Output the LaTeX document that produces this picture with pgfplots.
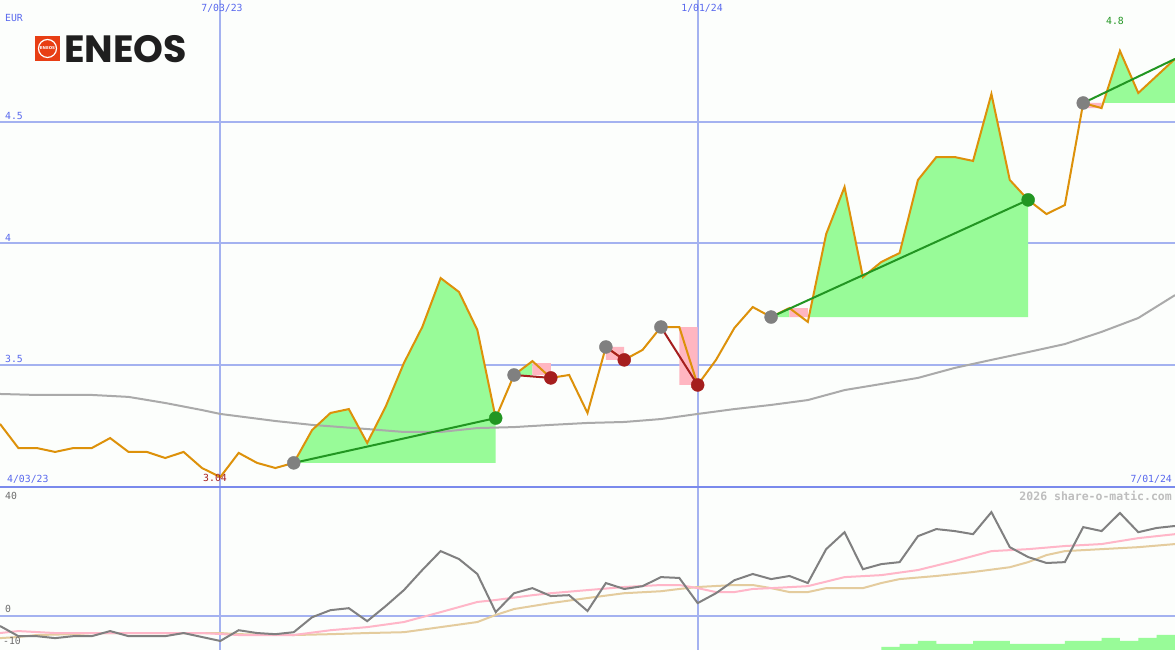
\documentclass[border=0pt]{standalone}
\usepackage{fontspec}
\setmainfont{DejaVu Sans}
\newfontfamily\pixfont{DejaVu Sans Mono}
\newfontfamily\logofont{Poppins}
\usepackage{pgfplots}
\pgfplotsset{compat=1.18}

\definecolor{bgc}{RGB}{252,254,252}
\definecolor{gridc}{RGB}{164,178,240}
\definecolor{borderc}{RGB}{122,138,236}
\definecolor{labc}{RGB}{88,104,238}
\definecolor{pricec}{RGB}{221,145,10}
\definecolor{fillg}{RGB}{152,251,152}
\definecolor{fillp}{RGB}{255,182,193}
\definecolor{trendg}{RGB}{34,150,34}
\definecolor{trendr}{RGB}{165,30,30}
\definecolor{dotg}{RGB}{128,128,128}
\definecolor{mac}{RGB}{170,170,170}
\definecolor{oscc}{RGB}{128,128,128}
\definecolor{pinkc}{RGB}{255,182,200}
\definecolor{tanc}{RGB}{228,204,158}
\definecolor{wmc}{RGB}{190,190,190}
\definecolor{eneosred}{RGB}{232,62,20}

% weekly close, index 0..64
\pgfplotstableread{
i v
0 3.259
1 3.160
2 3.160
3 3.144
4 3.160
5 3.160
6 3.201
7 3.144
8 3.144
9 3.119
10 3.144
11 3.078
12 3.041
13 3.140
14 3.099
15 3.078
16 3.099
17 3.234
18 3.304
19 3.320
20 3.181
21 3.329
22 3.509
23 3.657
24 3.858
25 3.801
26 3.645
27 3.283
28 3.460
29 3.517
30 3.448
31 3.460
32 3.304
33 3.575
34 3.522
35 3.563
36 3.657
37 3.657
38 3.419
39 3.522
40 3.653
41 3.739
42 3.698
43 3.735
44 3.678
45 4.039
46 4.232
47 3.862
48 3.924
49 3.961
50 4.261
51 4.355
52 4.355
53 4.339
54 4.614
55 4.261
56 4.179
57 4.121
58 4.158
59 4.577
60 4.556
61 4.791
62 4.618
63 4.688
64 4.758
}\price

\pgfplotstableread{
i v
0 3.382
2 3.378
5 3.378
7 3.370
9 3.345
11 3.316
12 3.300
15 3.271
17 3.255
20 3.238
22 3.226
24 3.226
26 3.242
28 3.246
30 3.255
32 3.263
34 3.267
36 3.279
38 3.300
40 3.320
42 3.337
44 3.357
46 3.398
48 3.423
50 3.448
52 3.489
54 3.522
56 3.554
58 3.587
60 3.637
62 3.694
64 3.788
}\mavg

\pgfplotstableread{
i v
0 -3.5
1 -7.1
2 -7.1
3 -7.8
4 -7.1
5 -7.1
6 -5.3
7 -7.1
8 -7.1
9 -7.1
10 -6.0
11 -7.4
12 -8.8
13 -5.0
14 -6.0
15 -6.4
16 -5.7
17 -0.4
18 2.1
19 2.8
20 -1.8
21 3.5
22 9.2
23 16.3
24 23.0
25 20.2
26 14.9
27 1.4
28 8.1
29 9.9
30 7.1
31 7.4
32 1.8
33 11.7
34 9.6
35 10.6
36 13.8
37 13.5
38 4.6
39 8.1
40 12.7
41 14.9
42 13.1
43 14.2
44 11.7
45 23.7
46 29.7
47 16.6
48 18.4
49 19.1
50 28.3
51 30.8
52 30.1
53 29.0
54 36.8
55 24.4
56 20.9
57 18.8
58 19.1
59 31.5
60 30.1
61 36.5
62 29.7
63 31.2
64 31.9
}\osc

\pgfplotstableread{
i v
0 -6.0
1 -5.3
3 -6.0
11 -6.0
13 -6.7
16 -6.7
18 -5.0
20 -3.9
22 -2.1
24 1.4
25 3.2
26 5.0
27 5.7
29 7.4
30 8.1
32 9.2
34 10.3
36 11.0
37 11.0
38 9.9
39 8.5
40 8.5
41 9.6
42 9.9
44 10.6
46 13.8
48 14.5
50 16.3
52 19.5
54 23.0
56 23.7
58 24.8
60 25.5
62 27.6
64 29.0
}\oscpink

\pgfplotstableread{
i v
0 -7.8
1 -7.4
2 -6.7
4 -6.4
5 -6.0
12 -6.0
13 -6.4
16 -6.7
18 -6.4
20 -6.0
22 -5.7
24 -3.9
26 -2.1
27 0.4
28 2.5
30 4.6
32 6.4
34 8.1
36 8.8
37 9.6
38 10.3
40 11.0
41 11.0
42 9.9
43 8.5
44 8.5
45 9.9
47 9.9
48 11.7
49 13.1
51 14.2
53 15.6
55 17.3
56 19.1
57 21.6
58 23.0
60 23.7
62 24.4
64 25.5
}\osctan

\begin{document}
\begin{tikzpicture}[x=1pt,y=1pt]
\fill[bgc] (0,0) rectangle (1175,650);

% ---- price panel
\begin{axis}[at={(0pt,163pt)}, anchor=south west,
  width=1175pt, height=487pt, scale only axis,
  xmin=0, xmax=64, ymin=3, ymax=5,
  xtick={12,38}, ytick={3.5,4,4.5},
  xticklabels={}, yticklabels={},
  grid=major, major grid style={gridc, line width=2pt},
  axis line style={draw=none}, major tick length=0pt,
  clip=false]

% green areas
\addplot[fill=fillg, draw=none] coordinates {
  (16,3.099) (17,3.234) (18,3.304) (19,3.320) (20,3.181) (21,3.329)
  (22,3.509) (23,3.657) (24,3.858) (25,3.801) (26,3.645) (27,3.283)
  (27,3.099) (16,3.099)};
\addplot[fill=fillg, draw=none] coordinates {(28,3.460) (29,3.517) (29,3.460) (28,3.460)};
\addplot[fill=fillg, draw=none] coordinates {(42,3.698) (43,3.735) (43,3.698) (42,3.698)};
\addplot[fill=fillg, draw=none] coordinates {
  (44.06,3.698) (45,4.039) (46,4.232) (47,3.862) (48,3.924) (49,3.961)
  (50,4.261) (51,4.355) (52,4.355) (53,4.339) (54,4.614) (55,4.261)
  (56,4.179) (56,3.698) (44.06,3.698)};
\addplot[fill=fillg, draw=none] coordinates {
  (60.09,4.577) (61,4.791) (62,4.618) (63,4.688) (64,4.758) (64,4.577) (60.09,4.577)};
% pink blocks
\addplot[fill=fillp, draw=none] coordinates {(29,3.460) (30,3.460) (30,3.509) (29,3.509) (29,3.460)};
\addplot[fill=fillp, draw=none] coordinates {(33,3.522) (34,3.522) (34,3.575) (33,3.575) (33,3.522)};
\addplot[fill=fillp, draw=none] coordinates {(37,3.419) (38,3.419) (38,3.657) (37,3.657) (37,3.419)};
\addplot[fill=fillp, draw=none] coordinates {(43,3.698) (44,3.698) (44,3.735) (43,3.735) (43,3.698)};
\addplot[fill=fillp, draw=none] coordinates {(59,4.556) (60,4.556) (60,4.577) (59,4.577) (59,4.556)};

% moving average
\addplot[mac, line width=2pt] table[x=i, y=v] {\mavg};

% run markers
\addplot[only marks, mark=*, mark size=6.5pt, dotg] coordinates {
  (16,3.099) (28,3.460) (33,3.575) (36,3.657) (42,3.698) (59,4.577)};
\addplot[only marks, mark=*, mark size=6.5pt, trendg] coordinates {
  (27,3.283) (56,4.179)};
\addplot[only marks, mark=*, mark size=6.5pt, trendr] coordinates {
  (30,3.448) (34,3.522) (38,3.419)};

% price
\addplot[pricec, line width=2pt] table[x=i, y=v] {\price};

% trend lines
\addplot[trendg, line width=2pt] coordinates {(16,3.099) (27,3.283)};
\addplot[trendg, line width=2pt] coordinates {(42,3.698) (56,4.179)};
\addplot[trendg, line width=2pt] coordinates {(59,4.577) (64,4.758)};
\addplot[trendr, line width=2pt] coordinates {(28,3.460) (30,3.448)};
\addplot[trendr, line width=2pt] coordinates {(33,3.575) (34,3.522)};
\addplot[trendr, line width=2pt] coordinates {(36,3.657) (38,3.419)};
\end{axis}

% ---- oscillator panel
\begin{axis}[at={(0pt,0pt)}, anchor=south west,
  width=1175pt, height=163pt, scale only axis,
  xmin=0, xmax=64, ymin=-12, ymax=45.7,
  xtick={12,38}, ytick={0},
  xticklabels={}, yticklabels={},
  grid=major, major grid style={gridc, line width=2pt},
  axis line style={draw=none}, major tick length=0pt,
  clip=false]
\addplot[tanc, line width=2pt] table[x=i, y=v] {\osctan};
\addplot[pinkc, line width=2pt] table[x=i, y=v] {\oscpink};
\addplot[oscc, line width=2pt] table[x=i, y=v] {\osc};
\end{axis}

% ---- volume strip
\begin{axis}[at={(0pt,0pt)}, anchor=south west,
  width=1175pt, height=163pt, scale only axis,
  xmin=0, xmax=64, ymin=0, ymax=163, hide axis]
\addplot[const plot, fill=fillg, draw=none] coordinates {
  (48,3) (49,6) (50,9) (51,6) (52,6) (53,9) (54,9) (55,6) (56,6) (57,6)
  (58,9) (59,9) (60,12) (61,9) (62,12) (63,15) (64,15)} \closedcycle;
\end{axis}

\draw[borderc, line width=2.5pt] (0,163) -- (1175,163);

% ---- labels
\begin{scope}[font=\pixfont\fontsize{9.8}{10}\selectfont, text=labc, inner sep=0pt]
\node[anchor=west] at (5,632) {EUR};
\node at (222,642) {7/03/23};
\node at (702,642) {1/01/24};
\node[anchor=west] at (5,534) {4.5};
\node[anchor=west] at (5,412) {4};
\node[anchor=west] at (5,291) {3.5};
\node[anchor=west] at (7,171) {4/03/23};
\node[anchor=east] at (1172,171) {7/01/24};
\node[text=trendr] at (215,172) {3.04};
\node[text=trendg] at (1115,629) {4.8};
\node[anchor=west, text=oscc!85!black] at (5,154) {40};
\node[anchor=west, text=oscc!85!black] at (5,41) {0};
\node[anchor=west, text=oscc!85!black] at (3,9) {-10};
\end{scope}
\node[anchor=east, inner sep=0pt, text=wmc, font=\pixfont\bfseries\fontsize{11.5}{12}\selectfont] at (1172,154) {2026 share-o-matic.com};

% ---- logo
\fill[eneosred] (35,589) rectangle (60,614);
\draw[white, line width=1.2pt] (47.5,601.5) circle (9);
\node[text=white, inner sep=0pt, font=\bfseries\fontsize{4}{4}\selectfont] at (47.5,601.5) {ENEOS};
\node[anchor=west, inner sep=0pt, text=black!88, font=\logofont\bfseries\fontsize{38}{38}\selectfont] at (64,601) {ENEOS};

\pgfresetboundingbox
\path (0,0) rectangle (1175,650);
\end{tikzpicture}
\end{document}
